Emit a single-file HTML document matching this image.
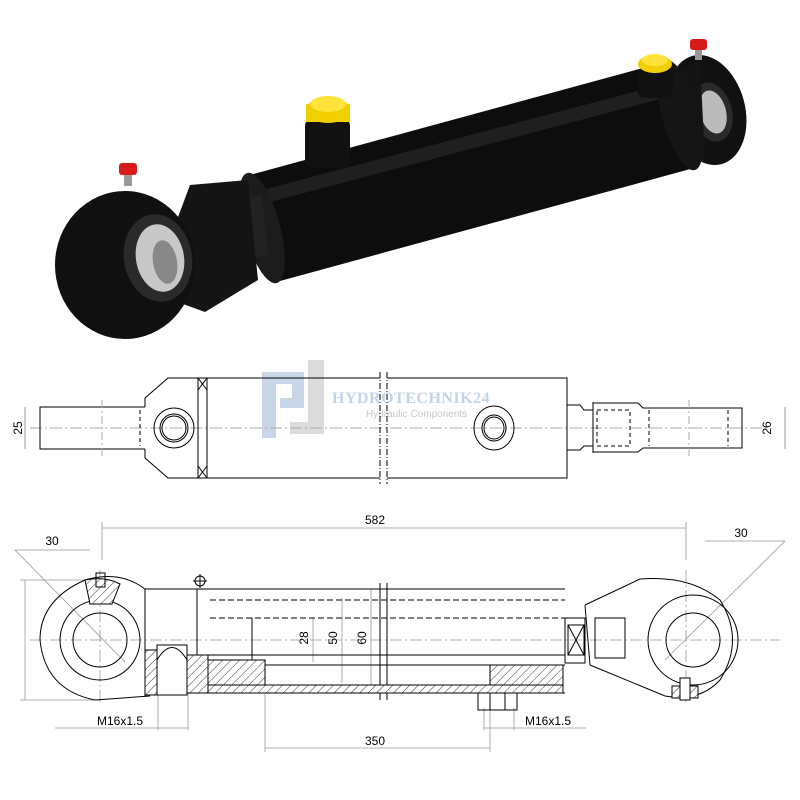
<!DOCTYPE html>
<html><head><meta charset="utf-8"><style>html,body{margin:0;padding:0;background:#fff}svg{display:block}</style></head><body>
<svg width="800" height="800" viewBox="0 0 800 800" xmlns="http://www.w3.org/2000/svg" font-family="Liberation Sans, sans-serif">
<defs>
<pattern id="h" width="6" height="6" patternUnits="userSpaceOnUse" patternTransform="rotate(45)"><rect width="6" height="6" fill="#fff"/><line x1="0" y1="0" x2="0" y2="6" stroke="#000" stroke-width="0.8"/></pattern>
</defs>
<rect width="800" height="800" fill="#fff"/>
<!-- PHOTO -->
<g>
  <ellipse cx="707" cy="110" rx="38" ry="56" transform="rotate(-15 707 110)" fill="#111"/>
  <ellipse cx="712" cy="112" rx="20" ry="30" transform="rotate(-15 712 112)" fill="#2a2a2a"/>
  <ellipse cx="713" cy="112" rx="13" ry="22" transform="rotate(-15 713 112)" fill="#bbb"/>
  <polygon points="655,80 700,62 705,160 665,165" fill="#141414"/>
  <polygon points="250,175 665,62 694,168 280,281" fill="#0d0d0d"/>
  <polygon points="262,190 660,85 664,98 266,203" fill="#2b2b2b" opacity="0.6"/>
  <ellipse cx="262" cy="228" rx="18" ry="57" transform="rotate(-15 262 228)" fill="#1c1c1c"/>
  <ellipse cx="680" cy="115" rx="18" ry="57" transform="rotate(-15 680 115)" fill="#151515"/>
  <rect x="305" y="118" width="45" height="50" rx="8" fill="#111"/>
  <ellipse cx="328" cy="110" rx="22" ry="13" fill="#e8c800"/>
  <rect x="306" y="104" width="44" height="18" fill="#f0d000"/>
  <ellipse cx="328" cy="104" rx="18" ry="8" fill="#ffe23a"/>
  <rect x="638" y="68" width="35" height="30" rx="6" fill="#111"/>
  <ellipse cx="655" cy="64" rx="17" ry="9" fill="#f0d000"/>
  <ellipse cx="655" cy="60" rx="13" ry="6" fill="#ffe23a"/>
  <polygon points="228,200 262,195 268,255 235,262" fill="#222"/>
  <polygon points="190,185 248,180 258,280 205,312 150,292" fill="#141414"/>
  <ellipse cx="125" cy="265" rx="70" ry="74" fill="#101010"/>
  <ellipse cx="158" cy="258" rx="34" ry="44" transform="rotate(-10 158 258)" fill="#2a2a2a"/>
  <ellipse cx="160" cy="258" rx="24" ry="34" transform="rotate(-10 160 258)" fill="#c8c8c8"/>
  <ellipse cx="165" cy="262" rx="12" ry="22" transform="rotate(-10 165 262)" fill="#888"/>
  <rect x="124" y="172" width="8" height="14" fill="#999"/>
  <rect x="119" y="163" width="18" height="12" rx="3" fill="#d81a1a"/>
  <rect x="695" y="48" width="7" height="12" fill="#999"/>
  <rect x="690" y="39" width="17" height="11" rx="3" fill="#d81a1a"/>
</g>

<!-- WATERMARK -->
<g fill="#c9d6e8">
  <rect x="262" y="372" width="14" height="66"/>
  <rect x="262" y="372" width="42" height="12"/>
  <rect x="292" y="372" width="12" height="36"/>
  <rect x="280" y="398" width="16" height="10"/>
  <rect x="308" y="360" width="16" height="62" fill="#dcdcdc"/>
  <rect x="290" y="422" width="34" height="12" fill="#dcdcdc"/>
</g>
<text x="332" y="403" font-size="16" font-weight="bold" fill="#c5d3e8" font-family="Liberation Serif, serif" letter-spacing="0.5">HYDROTECHNIK24</text>
<text x="366" y="417" font-size="10" fill="#c8c8c8">Hydraulic Components</text>

<!-- MIDDLE DRAWING -->
<g fill="none" stroke="#000" stroke-width="1">
  <line x1="30" y1="428" x2="770" y2="428" stroke="#aaa" stroke-dasharray="12,3,2,3"/>
  <polyline points="145,407 40,407 40,449 145,449"/>
  <polyline points="145,407 145,398 168,378 380,378"/>
  <polyline points="145,449 145,458 168,478 380,478"/>
  <line x1="198" y1="378" x2="198" y2="478"/>
  <line x1="207" y1="378" x2="207" y2="478"/>
  <line x1="198" y1="378" x2="207" y2="390"/><line x1="207" y1="378" x2="198" y2="390"/>
  <line x1="198" y1="478" x2="207" y2="466"/><line x1="207" y1="478" x2="198" y2="466"/>
  <line x1="380" y1="372" x2="380" y2="484" stroke-dasharray="6,2,1,2"/>
  <line x1="387" y1="372" x2="387" y2="484" stroke-dasharray="6,2,1,2"/>
  <polyline points="387,378 567,378 567,478 387,478"/>
  <circle cx="174" cy="428" r="20"/><circle cx="174" cy="428" r="14"/><circle cx="174" cy="428" r="12"/>
  <ellipse cx="494" cy="428" rx="20" ry="22"/><ellipse cx="494" cy="428" rx="12" ry="13"/><ellipse cx="494" cy="428" rx="10" ry="11"/>
  <polyline points="567,405 580,405 584,410 593,410"/>
  <polyline points="567,450 580,450 584,446 593,446"/>
  <polyline points="593,402 593,453"/>
  <polyline points="593,403 638,403 643,408 742,408 742,448 643,448 638,452 593,452"/>
  <rect x="597" y="410" width="33" height="36" stroke-dasharray="4,3"/>
  <line x1="140" y1="410" x2="140" y2="446" stroke-dasharray="4,3"/>
  <line x1="649" y1="410" x2="649" y2="446" stroke-dasharray="4,3"/>
  <line x1="728" y1="410" x2="728" y2="446" stroke-dasharray="4,3"/>
  <line x1="102" y1="400" x2="102" y2="458" stroke="#aaa" stroke-dasharray="8,3,2,3"/>
  <line x1="689" y1="400" x2="689" y2="458" stroke="#aaa" stroke-dasharray="8,3,2,3"/>
  <line x1="25" y1="407" x2="25" y2="449" stroke="#999"/>
  <line x1="785" y1="407" x2="785" y2="449" stroke="#999"/>
</g>
<text transform="translate(22,428) rotate(-90)" text-anchor="middle" font-size="12" fill="#000">25</text>
<text transform="translate(771,428) rotate(-90)" text-anchor="middle" font-size="12" fill="#000">26</text>

<!-- BOTTOM DRAWING -->
<g fill="none" stroke="#999" stroke-width="0.8">
  <line x1="102" y1="528" x2="686" y2="528"/>
  <line x1="102" y1="522" x2="102" y2="560"/>
  <line x1="686" y1="522" x2="686" y2="560"/>
  <line x1="15" y1="550" x2="90" y2="550"/>
  <line x1="15" y1="550" x2="125" y2="662"/>
  <line x1="705" y1="541" x2="785" y2="541"/>
  <line x1="785" y1="541" x2="665" y2="660"/>
  <line x1="25" y1="580" x2="25" y2="700"/>
  <line x1="20" y1="580" x2="100" y2="580"/>
  <line x1="20" y1="700" x2="100" y2="700"/>
  <line x1="30" y1="640" x2="780" y2="640" stroke-dasharray="12,3,2,3"/>
  <line x1="100" y1="570" x2="100" y2="705" stroke-dasharray="12,3,2,3"/>
  <line x1="686" y1="570" x2="686" y2="705" stroke-dasharray="12,3,2,3"/>
  <line x1="55" y1="728" x2="188" y2="728"/>
  <line x1="158" y1="690" x2="158" y2="730"/>
  <line x1="188" y1="690" x2="188" y2="730"/>
  <line x1="484" y1="728" x2="586" y2="728"/>
  <line x1="484" y1="708" x2="484" y2="730"/>
  <line x1="514" y1="708" x2="514" y2="730"/>
  <line x1="265" y1="748" x2="490" y2="748"/>
  <line x1="265" y1="690" x2="265" y2="752"/>
  <line x1="490" y1="708" x2="490" y2="752"/>
  <line x1="313" y1="618" x2="313" y2="662"/>
  <line x1="342" y1="598" x2="342" y2="683"/>
  <line x1="371" y1="589" x2="371" y2="693"/>
</g>
<g fill="none" stroke="#000" stroke-width="1">
  <path d="M145,589 Q120,570 85,580 Q40,600 40,640 Q45,690 95,700 L150,696"/>
  <circle cx="100" cy="640" r="40"/>
  <circle cx="100" cy="640" r="27"/>
  <path d="M85,580 L90,604 L112,604 L120,584 Q105,576 85,580Z" fill="url(#h)"/>
  <rect x="96" y="573" width="9" height="14"/>
  <line x1="145" y1="589" x2="145" y2="696"/>
  <line x1="145" y1="589" x2="565" y2="589"/>
  <line x1="145" y1="693" x2="565" y2="693"/>
  <line x1="197" y1="589" x2="197" y2="693"/>
  <line x1="210" y1="600" x2="565" y2="600" stroke-dasharray="6,3"/>
  <line x1="210" y1="618" x2="565" y2="618" stroke-dasharray="6,3"/>
  <line x1="252" y1="665" x2="565" y2="665"/>
  <line x1="252" y1="618" x2="252" y2="665"/>
  <line x1="208" y1="655" x2="565" y2="655"/>
  <line x1="380" y1="583" x2="380" y2="700"/>
  <line x1="387" y1="583" x2="387" y2="700"/>
  <rect x="145" y="650" width="12" height="45" fill="url(#h)"/>
  <rect x="187" y="655" width="21" height="38" fill="url(#h)"/>
  <rect x="157" y="645" width="30" height="50" fill="#fff"/>
  <path d="M157,660 Q172,635 187,660"/>
  <rect x="208" y="660" width="57" height="25" fill="url(#h)"/>
  <rect x="208" y="685" width="355" height="8" fill="url(#h)"/>
  <rect x="490" y="665" width="73" height="20" fill="url(#h)"/>
  <rect x="478" y="693" width="39" height="17"/>
  <line x1="490" y1="693" x2="490" y2="710"/><line x1="505" y1="693" x2="505" y2="710"/>
  <rect x="565" y="618" width="20" height="45"/>
  <rect x="568" y="625" width="16" height="30"/>
  <line x1="568" y1="625" x2="584" y2="655"/><line x1="584" y1="625" x2="568" y2="655"/>
  <polyline points="585,605 640,579"/>
  <path d="M640,579 Q690,575 720,600 Q745,640 720,680 Q700,702 665,696 L590,665 L585,605"/>
  <circle cx="693" cy="640" r="45"/>
  <circle cx="693" cy="640" r="27"/>
  <rect x="595" y="618" width="30" height="40"/>
  <rect x="672" y="686" width="26" height="12" fill="url(#h)"/>
  <rect x="680" y="678" width="10" height="22" fill="#fff"/>
</g>
<g fill="#000" font-size="12" text-anchor="middle">
  <text x="375" y="524">582</text>
  <text x="52" y="545">30</text>
  <text x="741" y="537">30</text>
  <text x="120" y="725">M16x1.5</text>
  <text x="548" y="725">M16x1.5</text>
  <text x="375" y="745">350</text>
  <text transform="translate(308,638) rotate(-90)">28</text>
  <text transform="translate(337,638) rotate(-90)">50</text>
  <text transform="translate(366,638) rotate(-90)">60</text>
</g>
<g fill="none" stroke="#000"><circle cx="200" cy="581" r="5"/><line x1="200" y1="574" x2="200" y2="588"/><line x1="193" y1="581" x2="207" y2="581"/></g>
</svg>
</body></html>
